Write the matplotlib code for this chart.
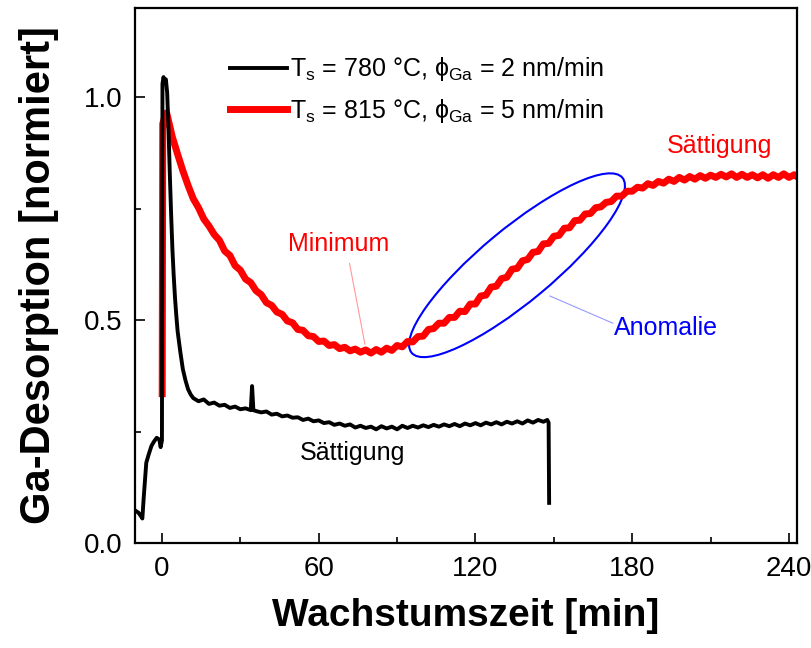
import numpy as np
import matplotlib
matplotlib.use("Agg")
import matplotlib.pyplot as plt
from matplotlib.patches import Ellipse
from matplotlib.transforms import ScaledTranslation

plt.rcParams['font.family'] = ['Liberation Sans', 'DejaVu Sans']
plt.rcParams['mathtext.fontset'] = 'custom'
plt.rcParams['mathtext.rm'] = 'Liberation Sans'
plt.rcParams['mathtext.it'] = 'Liberation Sans:italic'

# DATA
# Ts = 780 C, phi = 2 nm/min (black)
t_780 = [-10, -9, -8, -7.5, -7, -6.5, -6, -5, -4, -3, -2, -1, -0.5, 0,
         0.2, 0.6, 1.0, 1.5, 2.0, 2.5, 3, 3.5, 4, 4.5, 5, 5.5, 6, 7, 8, 9,
         10, 11, 12, 14, 16, 18, 20, 22, 24, 26, 28, 30, 32, 34, 34.5, 35,
         36, 38, 40, 42, 44, 46, 48, 50, 52, 54, 56, 58, 60, 62, 64, 66,
         68, 70, 72, 74, 76, 78, 80, 82, 84, 86, 88, 90, 92, 94, 96, 98,
         100, 102, 104, 106, 108, 110, 112, 114, 116, 118, 120, 122, 124,
         126, 128, 130, 132, 134, 136, 138, 140, 142, 144, 146, 147.5, 148,
         148.2]
d_780 = [0.072, 0.068, 0.06, 0.055, 0.10, 0.14, 0.18, 0.20, 0.218, 0.228,
         0.236, 0.232, 0.215, 0.23,
         1.03, 1.045, 1.035, 1.04, 1.01, 0.93, 0.83, 0.74, 0.66, 0.60, 0.55,
         0.51, 0.475, 0.43, 0.39, 0.365,
         0.345, 0.333, 0.325, 0.318, 0.322, 0.312, 0.315, 0.308, 0.31,
         0.303, 0.306, 0.30, 0.302, 0.298, 0.352, 0.298,
         0.296, 0.293, 0.295, 0.288, 0.29, 0.284, 0.286, 0.281, 0.282,
         0.276, 0.279, 0.273, 0.275, 0.269, 0.271, 0.265,
         0.268, 0.263, 0.266, 0.259, 0.263, 0.258, 0.261, 0.255, 0.262,
         0.257, 0.261, 0.255, 0.263, 0.258, 0.263, 0.259,
         0.264, 0.26, 0.265, 0.261, 0.266, 0.262, 0.267, 0.262, 0.268,
         0.264, 0.269, 0.264, 0.27,
         0.266, 0.271, 0.266, 0.272, 0.268, 0.273, 0.268, 0.275, 0.27,
         0.276, 0.272, 0.276, 0.27,
         0.09]

# Ts = 815 C, phi = 5 nm/min (red)
t_815 = [0.1, 0.3, 1.0, 1.8, 2, 4, 6, 8, 10, 12, 14, 16, 18, 20, 22, 24, 26,
         28, 30, 32, 34, 36, 38, 40, 42, 44, 46, 48, 50, 52, 54, 56, 58, 60,
         62, 64, 66, 68, 70, 72, 74, 76, 78, 80, 82, 84, 86, 88, 90, 92, 94,
         96, 98, 100, 102, 104, 106, 108, 110, 112, 114, 116, 118, 120, 122,
         124, 126, 128, 130, 132, 134, 136, 138, 140, 142, 144, 146, 148,
         150, 152, 154, 156, 158, 160, 162, 164, 166, 168, 170, 172, 174,
         176, 178, 180, 182, 184, 186, 188, 190, 192, 194, 196, 198, 200,
         202, 204, 206, 208, 210, 212, 214, 216, 218, 220, 222, 224, 226,
         228, 230, 232, 234, 236, 238, 240, 242, 243]
d_815 = [0.335, 0.94, 0.955, 0.965, 0.96, 0.91, 0.872, 0.835, 0.802, 0.772,
         0.752, 0.727, 0.711, 0.692, 0.679, 0.655, 0.645,
         0.622, 0.612, 0.592, 0.584, 0.566, 0.557, 0.539, 0.533, 0.518,
         0.513, 0.498, 0.494, 0.479, 0.477, 0.465, 0.463, 0.452,
         0.453, 0.443, 0.445, 0.436, 0.439, 0.431, 0.435, 0.428, 0.433,
         0.426, 0.434, 0.428, 0.437, 0.432, 0.443, 0.44, 0.452,
         0.451, 0.463, 0.464, 0.479, 0.481, 0.493, 0.493, 0.506, 0.506,
         0.52, 0.519, 0.536, 0.536, 0.554,
         0.556, 0.574, 0.576, 0.593, 0.596, 0.614, 0.616, 0.633, 0.636,
         0.652, 0.654, 0.671, 0.672,
         0.688, 0.69, 0.706, 0.707, 0.723, 0.724, 0.738, 0.739, 0.752, 0.754,
         0.764, 0.766, 0.778,
         0.778, 0.789, 0.789, 0.798, 0.796, 0.806, 0.802, 0.811, 0.807,
         0.816, 0.811, 0.82, 0.814,
         0.822, 0.816, 0.824, 0.818, 0.825, 0.82, 0.827, 0.821, 0.828,
         0.82, 0.827, 0.82, 0.826,
         0.819, 0.826, 0.818, 0.826, 0.82, 0.828, 0.82, 0.826, 0.822]

labels = ['T$_\\mathrm{s}$ = 780 °C, ϕ$_\\mathrm{Ga}$ = 2 nm/min',
          'T$_\\mathrm{s}$ = 815 °C, ϕ$_\\mathrm{Ga}$ = 5 nm/min']

fig = plt.figure(figsize=(8.11, 6.48), dpi=100)
ax = fig.add_axes([0.1665, 0.162, 0.816, 0.8257])

ax.plot(t_780, d_780, color='black', lw=2.8, label=labels[0], zorder=3)
ax.plot(t_815, d_815, color='red', lw=5, label=labels[1], zorder=2)

ax.set_xlim(-10.3, 243)
ax.set_ylim(0, 1.2)
ax.set_xticks([0, 60, 120, 180, 240])
ax.set_xticks([30, 90, 150, 210], minor=True)
ax.set_yticks([0.0, 0.5, 1.0])
ax.set_yticks([0.25, 0.75], minor=True)
ax.yaxis.set_major_formatter(matplotlib.ticker.FormatStrFormatter('%.1f'))
ax.tick_params(which='both', direction='in', width=1.2, labelsize=20, pad=9)
ax.tick_params(which='major', length=7)
ax.tick_params(which='minor', length=4)
for s in ax.spines.values():
    s.set_linewidth(1.6)

ax.set_xlabel('Wachstumszeit [min]', fontsize=28, fontweight='bold', labelpad=12)
ax.set_ylabel('Ga-Desorption [normiert]', fontsize=30, fontweight='bold', labelpad=18)

ax.legend(loc='upper left', bbox_to_anchor=(0.128, 0.93), frameon=False,
          fontsize=18, handlelength=2.3, handletextpad=0.1, labelspacing=0.55,
          borderaxespad=0)

# annotations
ax.text(67.8, 0.67, 'Minimum', color='red', fontsize=18, ha='center', va='center')
ax.plot([71.8, 77.7], [0.627, 0.446], color='#ff9999', lw=0.8)
ax.text(213.6, 0.89, 'Sättigung', color='red', fontsize=18, ha='center', va='center')
ax.text(73.1, 0.203, 'Sättigung', color='black', fontsize=18, ha='center', va='center')
ax.text(192.9, 0.482, 'Anomalie', color='blue', fontsize=18, ha='center', va='center')
ax.plot([148.5, 172.6], [0.554, 0.493], color='#9999ff', lw=0.8)

ell = Ellipse((0, 0), 2.74, 0.73, angle=39.7, fill=False, edgecolor='blue', lw=1.5,
              transform=fig.dpi_scale_trans + ScaledTranslation(135.9, 0.623, ax.transData))
ax.add_patch(ell)

fig.savefig('out.png', dpi=100)
